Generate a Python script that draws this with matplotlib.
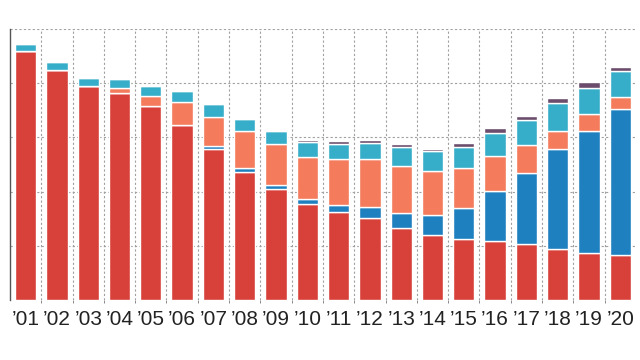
import numpy as np
import matplotlib
matplotlib.use("Agg")
import matplotlib.pyplot as plt
from matplotlib.ticker import FixedLocator

years = ["\u201901", "\u201902", "\u201903", "\u201904", "\u201905", "\u201906", "\u201907",
         "\u201908", "\u201909", "\u201910", "\u201911", "\u201912", "\u201913", "\u201914",
         "\u201915", "\u201916", "\u201917", "\u201918", "\u201919", "\u201920"]

red = [46.0, 42.5, 39.4, 38.1, 35.7, 32.3, 27.9, 23.7, 20.5, 17.7,
       16.2, 15.1, 13.2, 11.9, 11.3, 10.9, 10.3, 9.4, 8.7, 8.3]
blue = [0, 0, 0, 0, 0, 0, 0.6, 0.6, 0.8, 0.9,
        1.3, 2.0, 2.8, 3.8, 5.6, 9.2, 13.1, 18.4, 22.5, 26.9]
orange = [0, 0, 0, 1.0, 2.0, 4.3, 5.2, 6.8, 7.4, 7.7,
          8.5, 8.9, 8.7, 8.1, 7.4, 6.5, 5.2, 3.4, 3.1, 2.3]
cyan = [1.2, 1.4, 1.5, 1.6, 1.8, 2.0, 2.4, 2.3, 2.5, 2.9,
        2.8, 3.0, 3.5, 3.6, 3.9, 4.3, 4.6, 5.2, 4.9, 4.7]
purple = [0, 0, 0, 0, 0, 0, 0, 0, 0, 0.4,
          0.5, 0.5, 0.5, 0.5, 0.7, 0.8, 0.7, 0.9, 1.0, 0.7]

series = [red, blue, orange, cyan, purple]
colors = ["#d8403a", "#1f80c0", "#f47b5b", "#36adc9", "#6c4c6c"]

fig = plt.figure(figsize=(6.4, 3.6), dpi=100)
ax = fig.add_axes([0.0156, 0.1667, 0.978, 0.7528])

x = np.arange(len(years))
bottom = np.zeros(len(years))
for vals, c in zip(series, colors):
    vals = np.array(vals, dtype=float)
    ax.bar(x, vals, width=0.68, bottom=bottom, color=c,
           edgecolor="white", linewidth=1.0, zorder=3)
    bottom += vals

ax.set_xlim(-0.5, len(years) - 0.5)
ax.set_ylim(0, 50)

# dotted grid between bars and every 10 units
ax.xaxis.set_minor_locator(FixedLocator(np.arange(0.5, len(years) - 0.5, 1)))
ax.set_yticks([10, 20, 30, 40, 50])
ax.grid(which="minor", axis="x", color="#a0a0a0", linestyle=(0, (2, 2)), linewidth=0.8, zorder=0)
ax.grid(which="major", axis="y", color="#a0a0a0", linestyle=(0, (2, 2)), linewidth=0.8, zorder=0)
ax.grid(which="major", axis="x", visible=False)

ax.set_xticks(x)
ax.set_xticklabels(years, family=["Liberation Sans", "DejaVu Sans"], fontsize=15, color="#222222")
ax.tick_params(axis="x", which="major", length=0, pad=7)
ax.tick_params(axis="x", which="minor", length=2, color="#777777")
ax.tick_params(axis="y", which="both", length=0, labelleft=False)

for s in ["top", "right", "bottom"]:
    ax.spines[s].set_visible(False)
ax.spines["left"].set_color("#555555")
ax.spines["left"].set_linewidth(1.0)

fig.savefig("out.png", dpi=100)
